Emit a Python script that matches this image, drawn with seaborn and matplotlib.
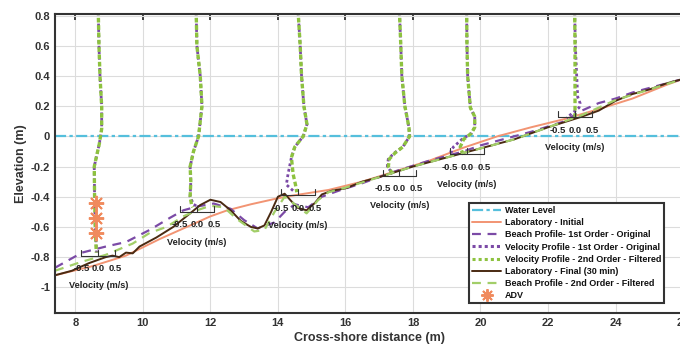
import seaborn as sns
import matplotlib.pyplot as plt
from matplotlib.lines import Line2D

# ---------------- bed profiles (x in m, elevation in m) ----------------
lab_ini_x = [7.4, 8.5, 9.5, 10.5, 11.5, 12.0, 12.5, 13.2, 14.0, 14.5, 15.5, 16.5, 17.5,
             18.5, 19.5, 20.5, 21.5, 22.5, 23.5, 24.5, 25.5, 26.0]
lab_ini_y = [-0.92, -0.86, -0.79, -0.68, -0.58, -0.53, -0.49, -0.45, -0.41, -0.39, -0.355,
             -0.30, -0.23, -0.16, -0.075, 0.0, 0.06, 0.115, 0.18, 0.25, 0.34, 0.38]

lab_fin_x = [7.4, 7.9, 8.4, 8.9, 9.1, 9.3, 9.5, 9.7, 9.9, 10.4, 10.9, 11.4, 11.7, 12.0,
             12.3, 12.6, 12.9, 13.2, 13.4, 13.6, 13.8, 14.0, 14.2, 14.4, 14.6, 14.85, 15.1,
             15.3, 15.6, 16.0, 16.5, 17.0, 17.5, 18.0, 18.5, 19.0, 19.5, 20.0, 20.5, 21.0,
             21.5, 22.0, 22.5, 23.0, 23.5, 24.0, 24.5, 25.0, 25.5, 26.0]
lab_fin_y = [-0.92, -0.89, -0.84, -0.80, -0.79, -0.80, -0.77, -0.775, -0.73, -0.67, -0.60,
             -0.51, -0.455, -0.42, -0.435, -0.49, -0.56, -0.60, -0.61, -0.59, -0.50, -0.40,
             -0.38, -0.43, -0.475, -0.49, -0.44, -0.385, -0.36, -0.345, -0.30, -0.27, -0.235,
             -0.20, -0.17, -0.14, -0.11, -0.08, -0.05, -0.02, 0.02, 0.06, 0.095, 0.13, 0.17,
             0.235, 0.28, 0.31, 0.35, 0.38]

bp1_x = [7.4, 8.2, 8.9, 9.5, 10.2, 10.8, 11.2, 11.6, 12.1, 12.6, 13.0, 13.4, 13.9, 14.2,
         14.5, 14.9, 15.3, 15.8, 16.5, 17.5, 18.5, 19.5, 20.0, 20.5, 21.5, 22.5, 23.0, 23.5,
         24.0, 24.5, 25.0, 25.5, 26.0]
bp1_y = [-0.87, -0.77, -0.73, -0.70, -0.62, -0.54, -0.49, -0.465, -0.445, -0.48, -0.555,
         -0.61, -0.57, -0.50, -0.45, -0.47, -0.40, -0.36, -0.31, -0.23, -0.16, -0.10, -0.06,
         -0.03, 0.03, 0.10, 0.17, 0.22, 0.25, 0.29, 0.32, 0.35, 0.38]

bp2_x = [7.4, 8.2, 8.9, 9.7, 10.2, 10.7, 11.2, 11.6, 12.0, 12.4, 12.8, 13.3, 13.6, 13.9,
         14.2, 14.5, 14.85, 15.2, 15.5, 16.0, 17.0, 18.0, 19.0, 20.0, 21.0, 22.0, 23.0,
         24.0, 25.0, 26.0]
bp2_y = [-0.89, -0.83, -0.785, -0.71, -0.64, -0.60, -0.53, -0.49, -0.46, -0.47, -0.55,
         -0.63, -0.62, -0.50, -0.40, -0.45, -0.51, -0.42, -0.37, -0.34, -0.27, -0.20, -0.14,
         -0.08, -0.02, 0.06, 0.14, 0.24, 0.31, 0.38]

# ---------------- velocity profiles (u in m/s, plotted at x0 + u) ----------------
vel_x0 = [8.68, 11.6, 14.6, 17.6, 19.6, 22.8]
vel_bed = [-0.79, -0.50, -0.39, -0.26, -0.12, 0.125]
vel_z = [
    [0.82, 0.6, 0.4, 0.2, 0.05, -0.05, -0.2, -0.4, -0.6, -0.77],
    [0.82, 0.6, 0.4, 0.2, 0.0, -0.1, -0.2, -0.3, -0.4, -0.45, -0.47],
    [0.82, 0.6, 0.4, 0.2, 0.08, 0.0, -0.07, -0.14, -0.25, -0.32, -0.37],
    [0.82, 0.6, 0.4, 0.2, 0.06, 0.0, -0.07, -0.11, -0.15, -0.2, -0.25],
    [0.82, 0.6, 0.4, 0.19, 0.13, 0.06, 0.02, -0.02, -0.07, -0.1, -0.12],
    [0.82, 0.6, 0.4, 0.26, 0.22, 0.19, 0.15, 0.13, 0.12],
]
vel_u1 = [
    [0.0, 0.02, 0.05, 0.1, 0.1, 0.03, -0.12, -0.11, -0.09, -0.05],
    [-0.02, 0.0, 0.1, 0.15, 0.05, -0.1, -0.2, -0.18, -0.2, -0.1, 0.05],
    [0.0, 0.06, 0.1, 0.17, 0.26, 0.15, -0.1, -0.2, -0.3, -0.35, -0.1],
    [0.0, 0.04, 0.07, 0.16, 0.28, 0.3, 0.1, -0.15, -0.33, -0.36, -0.2],
    [-0.01, 0.0, 0.02, 0.1, 0.23, 0.23, 0.13, -0.15, -0.4, -0.48, -0.35],
    [-0.01, 0.01, 0.05, 0.08, 0.15, 0.12, -0.1, -0.2, -0.25],
]
vel_u2 = [
    [0.0, 0.02, 0.05, 0.1, 0.1, 0.03, -0.12, -0.11, -0.09, -0.06],
    [-0.02, 0.0, 0.1, 0.15, 0.05, -0.1, -0.2, -0.18, -0.2, -0.16, -0.12],
    [0.0, 0.06, 0.1, 0.17, 0.26, 0.15, -0.1, -0.2, -0.15, -0.08, -0.04],
    [0.0, 0.04, 0.07, 0.16, 0.28, 0.3, 0.1, -0.13, -0.3, -0.33, -0.2],
    [-0.01, 0.0, 0.02, 0.1, 0.23, 0.23, 0.13, -0.1, -0.2, -0.15, -0.1],
    [-0.01, 0.0, 0.0, 0.0, 0.0, 0.0, 0.0, 0.0, 0.0],
]

adv_x = [8.6, 8.6, 8.6]
adv_z = [-0.44, -0.54, -0.64]

vel_ticks = [-0.5, 0.0, 0.5]

# ---------------- colours ----------------
c_water = "#55BFDC"
c_ini = "#F29473"
c_purple = "#7B4AA6"
c_green = "#8DC23F"
c_brown = "#4A2A12"
c_green2 = "#A2CE68"
c_adv = "#F08A5D"
c_txt = "#333333"

sns.set_style("whitegrid")
plt.rcParams["font.family"] = ["Liberation Sans", "DejaVu Sans"]
plt.rcParams["font.weight"] = "bold"

fig = plt.figure(figsize=(6.8, 3.53), dpi=100)
ax = fig.add_axes([0.081, 0.1133, 0.9235, 0.847])

dot1 = (0, (1, 1))
dot2 = (1, (1, 1))
dash = (0, (4, 3))
wl_style = (0, (5, 1.5, 1.5, 1.5))

ax.axhline(0, color=c_water, ls=wl_style, lw=1.6, zorder=2)
sns.lineplot(x=lab_ini_x, y=lab_ini_y, sort=False, estimator=None, color=c_ini, lw=1.4, ax=ax)
sns.lineplot(x=bp1_x, y=bp1_y, sort=False, estimator=None, color=c_purple, lw=1.6, ls=dash, ax=ax)

# velocity profiles, brackets and labels
for i in range(len(vel_x0)):
    x1 = [vel_x0[i] + u for u in vel_u1[i]]
    x2 = [vel_x0[i] + u for u in vel_u2[i]]
    sns.lineplot(x=x1, y=vel_z[i], sort=False, estimator=None, color=c_purple, lw=2.0, ls=dot1, ax=ax)
    sns.lineplot(x=x2, y=vel_z[i], sort=False, estimator=None, color=c_green, lw=2.4, ls=(0.6, (1.4, 0.8)), ax=ax)

    xb = [vel_x0[i] + t for t in vel_ticks]
    ax.plot([xb[0], xb[-1]], [vel_bed[i], vel_bed[i]], color=c_txt, lw=0.8, zorder=4)
    for t, xt in zip(vel_ticks, xb):
        ax.plot([xt, xt], [vel_bed[i], vel_bed[i] + 0.04], color=c_txt, lw=0.8, zorder=4)
        ax.text(xt, vel_bed[i] - 0.085, f"{t:.1f}", ha="center", va="center",
                fontsize=6.8, color="#222222", zorder=5)
    ax.text(vel_x0[i], vel_bed[i] - 0.2, "Velocity (m/s)", ha="center", va="center",
            fontsize=6.6, color="#222222", zorder=5)

sns.lineplot(x=lab_fin_x, y=lab_fin_y, sort=False, estimator=None, color=c_brown, lw=1.4, ax=ax)
sns.lineplot(x=bp2_x, y=bp2_y, sort=False, estimator=None, color=c_green2, lw=1.6, ls=dash, ax=ax)
ax.plot(adv_x, adv_z, ls="none", marker=(8, 2, 0), ms=11, mew=1.4, color=c_adv, zorder=6)

ax.set_xlim(7.4, 26)
ax.set_ylim(-1.17, 0.81)
ax.set_xticks(range(8, 27, 2))
ax.set_yticks([-1, -0.8, -0.6, -0.4, -0.2, 0, 0.2, 0.4, 0.6, 0.8])
ax.set_yticklabels(["-1", "-0.8", "-0.6", "-0.4", "-0.2", "0", "0.2", "0.4", "0.6", "0.8"])
ax.grid(True, color="#dcdcdc", lw=0.8)
ax.tick_params(direction="in", top=True, length=4, width=1.3, colors=c_txt,
               labelsize=8, labelcolor=c_txt)
for s in ["left", "bottom", "top", "right"]:
    ax.spines[s].set_color(c_txt)
    ax.spines[s].set_linewidth(1.5)
ax.set_xlabel("Cross-shore distance (m)", fontsize=9, color=c_txt, fontweight="bold", labelpad=3)
ax.set_ylabel("Elevation (m)", fontsize=9, color=c_txt, fontweight="bold", labelpad=3)

handles = [
    Line2D([], [], color=c_water, ls=wl_style, lw=1.6),
    Line2D([], [], color=c_ini, lw=1.4),
    Line2D([], [], color=c_purple, ls=dash, lw=1.6),
    Line2D([], [], color=c_purple, ls=dot1, lw=2.2),
    Line2D([], [], color=c_green, ls=dot1, lw=2.2),
    Line2D([], [], color=c_brown, lw=1.4),
    Line2D([], [], color=c_green2, ls=dash, lw=1.6),
    Line2D([], [], ls="none", marker=(8, 2, 0), ms=9, mew=1.4, color=c_adv),
]
labels = [
    "Water Level",
    "Laboratory - Initial",
    "Beach Profile- 1st Order - Original",
    "Velocity Profile - 1st Order - Original",
    "Velocity Profile - 2nd Order - Filtered",
    "Laboratory - Final (30 min)",
    "Beach Profile - 2nd Order - Filtered",
    "ADV",
]
leg = ax.legend(handles, labels, loc="lower right", bbox_to_anchor=(0.977, 0.017),
                fontsize=6.5, handlelength=3.2, labelspacing=0.35, borderpad=0.35,
                handletextpad=0.4, fancybox=False, framealpha=1, edgecolor=c_txt)
leg.get_frame().set_linewidth(1.5)
for t in leg.get_texts():
    t.set_color("#111111")

fig.savefig("out.png", dpi=100)
